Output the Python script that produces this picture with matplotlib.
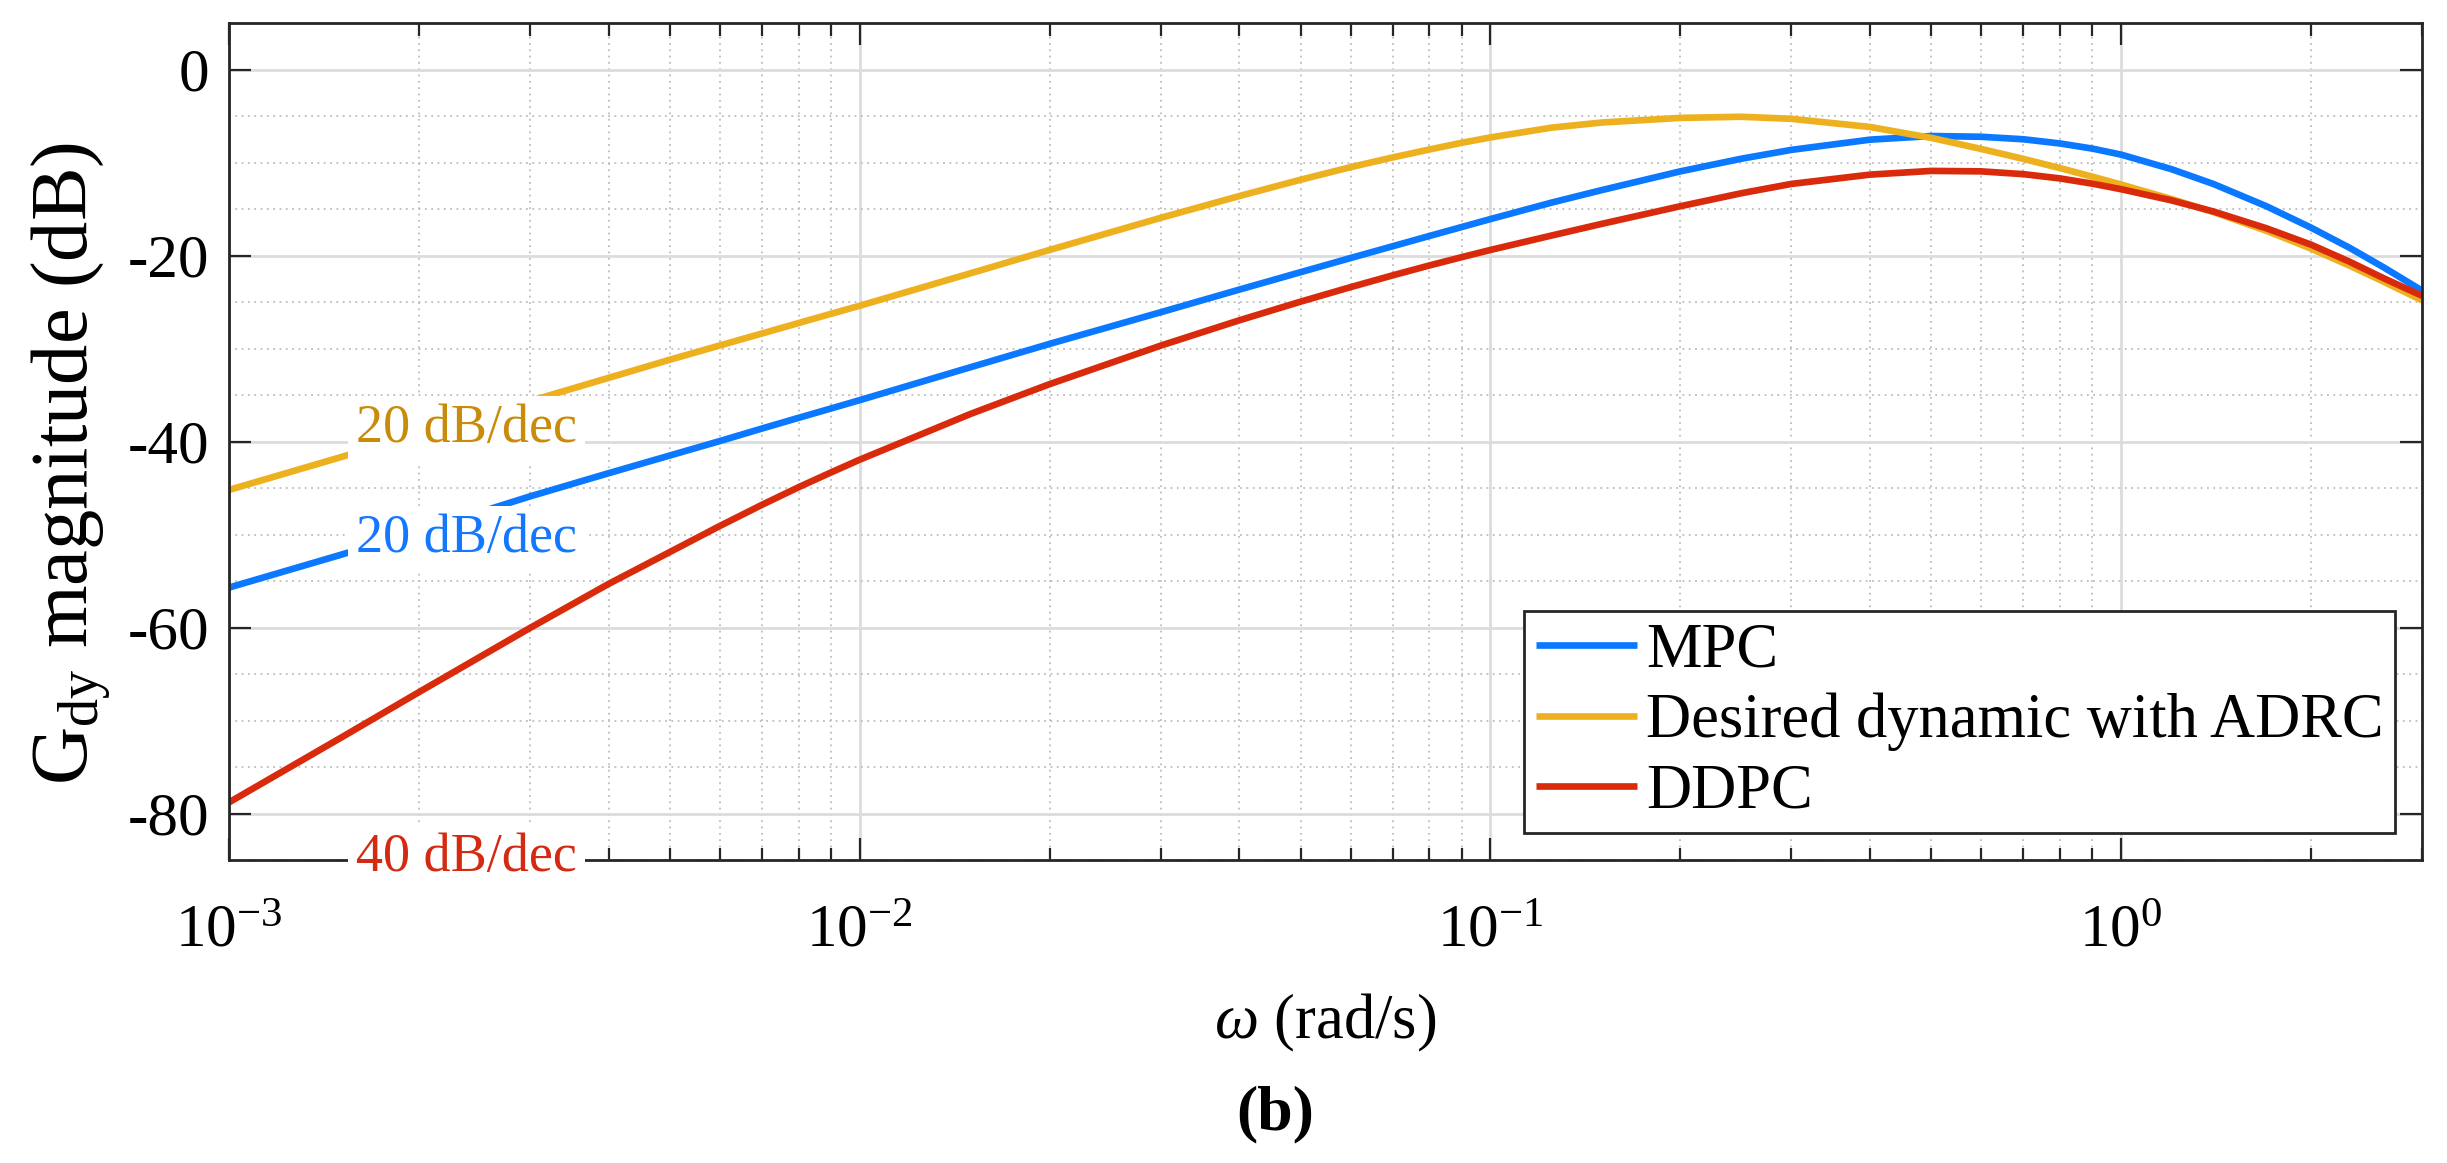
import numpy as np
import matplotlib
matplotlib.use("Agg")
import matplotlib.pyplot as plt
from matplotlib.ticker import FixedLocator, FixedFormatter, LogLocator, MultipleLocator, NullFormatter

plt.rcParams['font.family'] = ['Liberation Serif', 'DejaVu Serif']
plt.rcParams['mathtext.fontset'] = 'custom'
plt.rcParams['mathtext.rm'] = 'Liberation Serif'
plt.rcParams['mathtext.it'] = 'Liberation Serif:italic'
plt.rcParams['mathtext.bf'] = 'Liberation Serif:bold'
plt.rcParams['axes.unicode_minus'] = False

##################################
##             DATA             ##
##################################

# frequency (rad/s)
w = [1e-3, 1.5e-3, 2e-3, 3e-3, 4e-3, 5e-3, 6e-3, 7e-3, 8e-3, 9e-3, 1e-2, 1.5e-2,
     2e-2, 3e-2, 4e-2, 5e-2, 6e-2, 7e-2, 8e-2, 9e-2, 0.1, 0.125, 0.15, 0.2, 0.25,
     0.3, 0.4, 0.5, 0.6, 0.7, 0.8, 0.9, 1.0, 1.2, 1.4, 1.7, 2.0, 2.3, 2.6, 3.0]

# magnitude (dB)
mpc = [-55.7, -52.2, -49.65, -45.9, -43.4, -41.5, -39.95, -38.6, -37.45, -36.45, -35.55, -32.0,
       -29.5, -26.1, -23.66, -21.79, -20.27, -19.0, -17.9, -16.94, -16.08, -14.31, -12.97, -10.95, -9.59,
       -8.64, -7.54, -7.15, -7.23, -7.5, -7.95, -8.5, -9.15, -10.7, -12.3, -14.7, -17.0, -19.15, -21.22, -23.77]

adrc = [-45.2, -41.7, -39.2, -35.65, -33.15, -31.2, -29.67, -28.38, -27.26, -26.27, -25.4, -21.9,
        -19.4, -15.95, -13.6, -11.85, -10.5, -9.45, -8.6, -7.88, -7.3, -6.25, -5.7, -5.2, -5.08,
        -5.3, -6.18, -7.35, -8.54, -9.61, -10.6, -11.52, -12.37, -13.91, -15.32, -17.34, -19.25, -21.07, -22.77, -24.82]

ddpc = [-78.8, -71.9, -66.95, -60.05, -55.3, -51.88, -49.08, -46.8, -44.91, -43.33, -41.95, -37.02,
        -33.83, -29.69, -26.96, -24.96, -23.4, -22.13, -21.07, -20.18, -19.4, -17.85, -16.6, -14.7, -13.3,
        -12.3, -11.3, -10.9, -10.95, -11.25, -11.71, -12.27, -12.87, -14.06, -15.26, -17.07, -18.83, -20.65, -22.4, -24.33]

labels = ['MPC', 'Desired dynamic with ADRC', 'DDPC']
colors = ['#0A78FF', '#EDB120', '#D92B0C']

xticks = [1e-3, 1e-2, 1e-1, 1e0]
xticklabels = [r'$\mathregular{10^{-3}}$', r'$\mathregular{10^{-2}}$',
               r'$\mathregular{10^{-1}}$', r'$\mathregular{10^{0}}$']
yticks = [-80, -60, -40, -20, 0]

# slope notes: text, x, y, colour
notes = [('20 dB/dec', 2.38e-3, -40.1, '#C98C0A'),
         ('20 dB/dec', 2.38e-3, -51.9, '#1478FF'),
         ('40 dB/dec', 2.38e-3, -86.2, '#D42A12')]

##################################
##             PLOT             ##
##################################

dark = '#262626'
fig = plt.figure(figsize=(24.47, 11.63), dpi=100)
ax = fig.add_axes([0.0936, 0.2605, 0.8962, 0.7197])

for ys, lab, col in zip([mpc, adrc, ddpc], labels, colors):
    ax.plot(w, ys, color=col, lw=4.8, label=lab, solid_capstyle='butt', solid_joinstyle='round')

ax.set_xscale('log')
ax.set_xlim(1e-3, 3)
ax.set_ylim(-85, 5)

ax.xaxis.set_major_locator(FixedLocator(xticks))
ax.xaxis.set_major_formatter(FixedFormatter(xticklabels))
ax.xaxis.set_minor_locator(LogLocator(base=10, subs=np.arange(2, 10), numticks=20))
ax.xaxis.set_minor_formatter(NullFormatter())
ax.yaxis.set_major_locator(FixedLocator(yticks))
ax.yaxis.set_minor_locator(MultipleLocator(5))

ax.set_axisbelow(True)
ax.grid(which='major', color='#DCDCDC', lw=2.0, ls='-')
ax.grid(which='minor', color='#BDBDBD', lw=1.3, ls=(0, (1, 2.5)))

ax.tick_params(which='both', direction='in', top=True, right=True, colors=dark, width=1.6)
ax.tick_params(axis='x', which='major', length=16, pad=32, labelsize=44, labelcolor='black')
ax.tick_params(axis='x', which='minor', length=9)
ax.tick_params(axis='y', which='major', length=16, pad=14, labelsize=44, labelcolor='black')
ax.tick_params(axis='y', which='minor', length=0)
for sp in ax.spines.values():
    sp.set_color(dark)
    sp.set_linewidth(2.0)

ax.set_xlabel(r'$\omega$ (rad/s)', fontsize=45)
ax.xaxis.set_label_coords(0.5, -0.157)
ax.set_ylabel(r'G$_{\mathregular{dy}}$ magnitude (dB)', fontsize=58)
ax.yaxis.set_label_coords(-0.053, 0.474)

for txt, xn, yn, col in notes:
    ax.text(xn, yn, txt, color=col, fontsize=39, ha='center', va='baseline', zorder=10,
            clip_on=False, bbox=dict(boxstyle='square,pad=0.15', fc='white', ec='none'))

leg = ax.legend(loc='lower right', fontsize=45, frameon=True, fancybox=False, framealpha=1,
                edgecolor=dark, borderaxespad=0.43, handlelength=1.62, handletextpad=0.15,
                labelspacing=0.2, borderpad=0.18)
leg.get_frame().set_linewidth(2.0)
leg.set_zorder(20)

fig.text(1275 / 2447, 1 - 1114 / 1163, '(b)', ha='center', va='center', fontsize=46, fontweight='bold')

plt.savefig('out.png', dpi=100)
plt.close()
